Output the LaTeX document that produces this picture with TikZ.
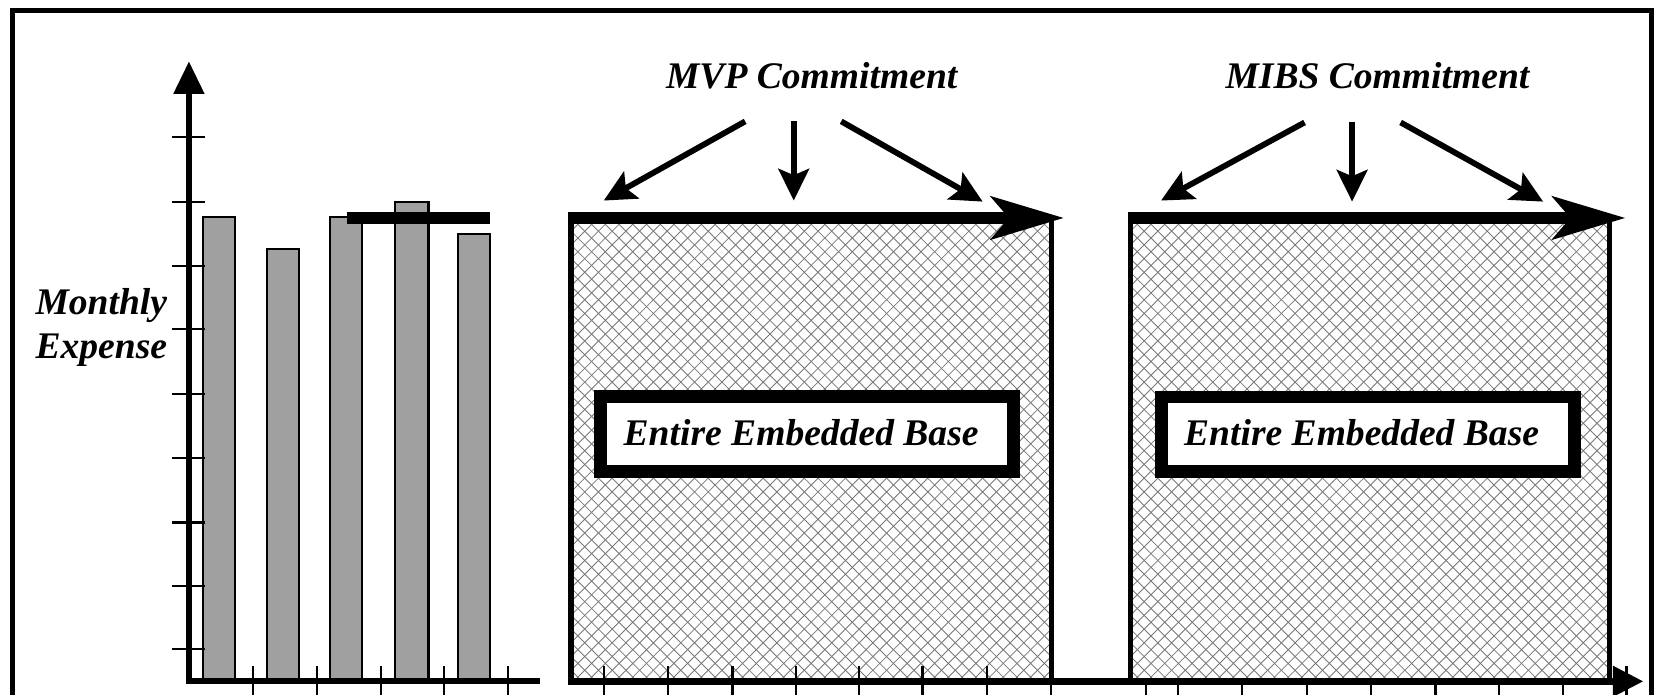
\documentclass[tikz,border=0pt]{standalone}
\usepackage{fontspec}
\setmainfont{Liberation Serif}
\usetikzlibrary{arrows.meta}
\definecolor{barfill}{RGB}{160,160,160}
\definecolor{hatchcol}{RGB}{120,120,120}
\tikzset{
  frameline/.style={line width=2.5pt},
  axisline/.style={line width=3pt},
  tickline/.style={line width=1pt},
  barbox/.style={fill=barfill, draw=black, line width=1pt},
  hatchline/.style={draw=hatchcol, line width=0.4pt},
  sideline/.style={line width=2.6pt},
  topline/.style={line width=5.5pt, -{Stealth[length=34.5pt,width=20.25pt,inset=8.5pt]}},
  commitarrow/.style={line width=2.75pt, -{Stealth[length=15pt,width=14.5pt,inset=3pt]}},
  lbl/.style={font=\fontsize{17.8}{20}\selectfont\bfseries\itshape, inner sep=0pt, anchor=base},
  eebox/.style={draw=black, fill=white, line width=6pt, minimum width=195.5pt, minimum height=35.5pt, inner sep=0pt}
}
\begin{document}
\begin{tikzpicture}[x=0.5pt,y=-0.5pt]
\useasboundingbox (0,0) rectangle (1568,658.45);
\clip (0,0) rectangle (1568,658.45);

% outer frame (bottom edge lies outside the picture)
\draw[frameline] (12,700) -- (12,10) -- (1565,10) -- (1565,700);

% ---------- left bar chart ----------
\foreach \a/\b/\t in {192/223/206, 253/283/236, 313/343/206, 374/406/191, 434/464/222}
  \draw[barbox] (\a,645) rectangle (\b,\t);
\fill (329,201) rectangle (464,212);

\foreach \y in {130,191,252,312,373,434,495,555,615}
  \draw[tickline] (163,\y) -- (194,\y);
\foreach \x in {240,300,361,421,481}
  \draw[tickline] (\x,631) -- (\x,670);

\coordinate (yorig) at (179,648);
\coordinate (ytop) at (179,58);
\coordinate (xend) at (512,645);
\draw[axisline,-{Triangle[length=15.5pt,width=14pt]}] (yorig) -- (ytop);
\draw[axisline] (177.5,645) -- (xend);

\node[lbl] (ylabA) at (96,298) {Monthly};
\node[lbl] (ylabB) at (96,340) {Expense};

% ---------- hatched boxes ----------
\begin{scope}
  \clip (541,206) rectangle (996,645);
  \foreach \c in {-455,-442,...,465}
    \draw[hatchline] (541+\c,206) -- ++(450,450);
  \foreach \c in {0,13,...,920}
    \draw[hatchline] (541+\c,206) -- ++(-450,450);
\end{scope}
\begin{scope}
  \clip (1071,206) rectangle (1525,645);
  \foreach \c in {-455,-442,...,465}
    \draw[hatchline] (1071+\c,206) -- ++(450,450);
  \foreach \c in {0,13,...,920}
    \draw[hatchline] (1071+\c,206) -- ++(-450,450);
\end{scope}

\draw[sideline] (541,206) -- (541,645);
\draw[sideline] (996,206) -- (996,645);
\draw[sideline] (1071,206) -- (1071,645);
\draw[sideline] (1525,206) -- (1525,645);

% ticks of the time axis
\foreach \x in {572,633,694,754,814,874,935,1541}
  \draw[tickline] (\x,631) -- (\x,670);
\foreach \x in {996,1086,1116,1177,1238,1299,1360,1420,1481}
  \draw[tickline] (\x,645) -- (\x,670);

% time axis
\coordinate (tstart) at (538.5,645.5);
\coordinate (tend) at (1557,645.5);
\draw[axisline,-{Triangle[length=14.5pt,width=14pt]}] (tstart) -- (tend);

% top commitment lines
\coordinate (mvpTL) at (538.5,206.5);
\coordinate (mvpTR) at (1008,206.5);
\coordinate (mibsTL) at (1068.5,206.5);
\coordinate (mibsTR) at (1540,206.5);
\draw[topline] (mvpTL) -- (mvpTR);
\draw[topline] (mibsTL) -- (mibsTR);

% inner boxes
\node[eebox] (eeA) at (764.5,411) {};
\node[eebox] (eeB) at (1296,411.5) {};
\node[lbl] (eeAtxt) at (759,422) {Entire Embedded Base};
\node[lbl] (eeBtxt) at (1290,422.5) {Entire Embedded Base};

% commitment labels and arrows
\node[lbl] (mvp) at (769,84) {MVP Commitment};
\node[lbl] (mibs) at (1305,84) {MIBS Commitment};

\coordinate (mvpS1) at (706,115);
\coordinate (mvpS2) at (752,115);
\coordinate (mvpS3) at (797,115);
\coordinate (mvpE1) at (572,190);
\coordinate (mvpE2) at (752,190);
\coordinate (mvpE3) at (931,191);
\draw[commitarrow] (mvpS1) -- (mvpE1);
\draw[commitarrow] (mvpS2) -- (mvpE2);
\draw[commitarrow] (mvpS3) -- (mvpE3);

\coordinate (mibsS1) at (1236,116);
\coordinate (mibsS2) at (1281,116);
\coordinate (mibsS3) at (1327,116);
\coordinate (mibsE1) at (1100,190);
\coordinate (mibsE2) at (1281,191);
\coordinate (mibsE3) at (1462,191);
\draw[commitarrow] (mibsS1) -- (mibsE1);
\draw[commitarrow] (mibsS2) -- (mibsE2);
\draw[commitarrow] (mibsS3) -- (mibsE3);
\end{tikzpicture}
\end{document}
